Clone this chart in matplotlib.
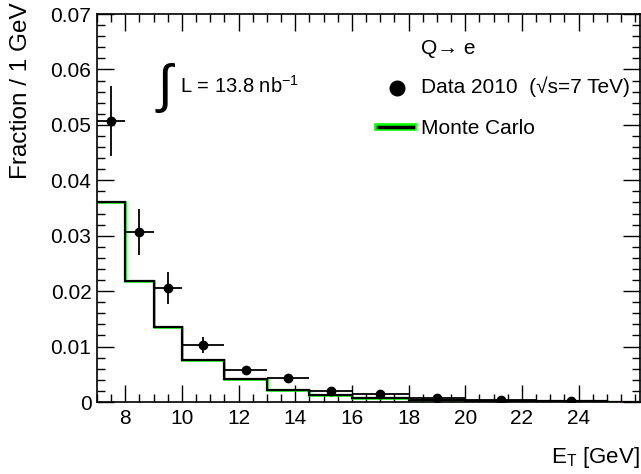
import matplotlib
matplotlib.use("Agg")
import matplotlib.pyplot as plt
from matplotlib.ticker import MultipleLocator
import numpy as np

plt.rcParams['font.family'] = ['Liberation Sans', 'DejaVu Sans']
plt.rcParams['mathtext.fontset'] = 'custom'
plt.rcParams['mathtext.rm'] = 'Liberation Sans'
plt.rcParams['mathtext.it'] = 'Liberation Sans:italic'
plt.rcParams['mathtext.default'] = 'regular'

# ---- data ----
bin_edges = [7, 8, 9, 10, 11.5, 13, 14.5, 16, 18, 20, 22.5, 25, 30]
mc_values = [0.0360, 0.0218, 0.0136, 0.0075, 0.0041, 0.0022, 0.0013, 0.0007,
             0.0003, 0.0002, 0.0001, 0.00005]
data_x = [7.5, 8.5, 9.5, 10.75, 12.25, 13.75, 15.25, 17, 19, 21.25, 23.75]
data_xerr = [0.5, 0.5, 0.5, 0.75, 0.75, 0.75, 0.75, 1.0, 1.0, 1.25, 1.25]
data_y = [0.0507, 0.0307, 0.0205, 0.0103, 0.0058, 0.0043, 0.0020, 0.0014,
          0.0008, 0.0004, 0.0001]
data_yerr = [0.0064, 0.0042, 0.0029, 0.0015, 0.0007, 0.0005, 0.0003, 0.0002,
             0.0002, 0.0001, 0.0001]
x_ticks = [8, 10, 12, 14, 16, 18, 20, 22, 24]
y_ticks = [0, 0.01, 0.02, 0.03, 0.04, 0.05, 0.06, 0.07]
y_ticklabels = ['0', '0.01', '0.02', '0.03', '0.04', '0.05', '0.06', '0.07']

fig = plt.figure(figsize=(6.41, 4.74), dpi=100)
ax = fig.add_axes([97/641, 1-402/474, (640-97)/641, (402-14)/474])

ax.stairs(mc_values, bin_edges, baseline=None, color='#00ff00', lw=1.8, zorder=2)
ax.stairs(mc_values, bin_edges, baseline=None, color='black', lw=1.6, zorder=3)
ax.errorbar(data_x, data_y, xerr=data_xerr, yerr=data_yerr, fmt='o', color='black',
            ms=6, elinewidth=1.3, capsize=0, zorder=4)

ax.set_xlim(7, 26.17)
ax.set_ylim(0, 0.07)
ax.set_xticks(x_ticks)
ax.set_xticklabels([str(t) for t in x_ticks])
ax.xaxis.set_minor_locator(MultipleLocator(0.5))
ax.set_yticks(y_ticks)
ax.set_yticklabels(y_ticklabels)
ax.yaxis.set_minor_locator(MultipleLocator(0.002))
ax.tick_params(which='both', direction='in', top=True, right=True, labelsize=15)
ax.tick_params(which='major', length=12, width=1)
ax.tick_params(which='minor', length=6, width=1)
ax.tick_params(axis='x', pad=5)
ax.tick_params(axis='y', pad=4)
for s in ax.spines.values():
    s.set_linewidth(1.2)

fig.text(21/641, 1-2/474, 'Fraction / 1 GeV', fontsize=17.5, rotation=90,
         ha='center', va='top')
ax.set_xlabel(r'E$_{T}$ [GeV]', fontsize=16, loc='right', labelpad=12)

# luminosity text
fig.text(155/641, 1-88/474, r'$\int$', math_fontfamily='stix', fontsize=38,
         ha='left', va='center')
fig.text(180/641, 1-86/474, r'L = 13.8 nb$^{-1}$', fontsize=14.5, ha='left', va='center')

# legend
fig.text(421/641, 1-48/474, 'Q\u2192 e', fontsize=15, ha='left', va='center')
fig.text(421/641, 1-87/474, 'Data 2010  (\u221as=7 TeV)', fontsize=15, ha='left', va='center')
fig.text(421/641, 1-128/474, 'Monte Carlo', fontsize=15, ha='left', va='center')
lx = np.array([378, 413]) / 641
ly = np.array([127, 127]) / 474
fig.add_artist(plt.Line2D(lx, 1-ly, color='#00ff00', lw=5.5))
fig.add_artist(plt.Line2D(lx, 1-ly, color='black', lw=2.5))
fig.add_artist(plt.Line2D([397/641], [1-88/474], marker='o', color='black', ms=10.5, ls='none'))

fig.savefig('out.png', dpi=100)
